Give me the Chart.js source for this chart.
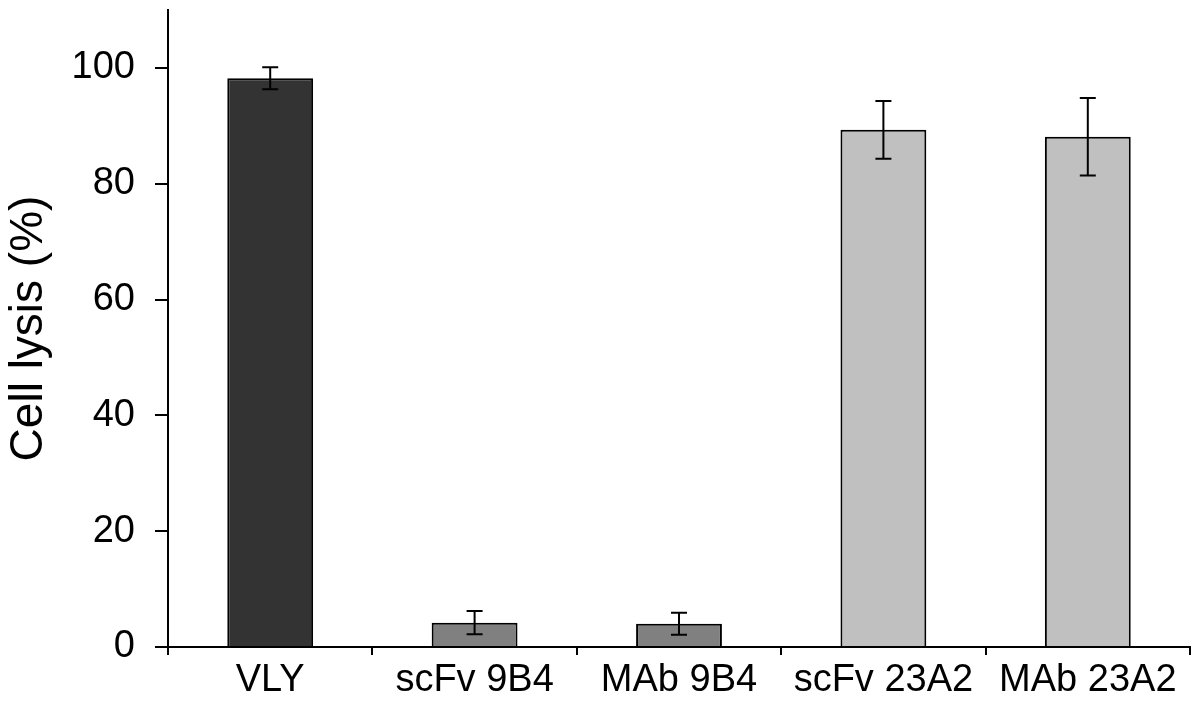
<!DOCTYPE html>
<html>
<head>
<meta charset="utf-8">
<script src="https://cdn.jsdelivr.net/npm/chart.js@4"></script>
<style>
  html, body { margin: 0; padding: 0; background: #fff; }
  #wrap { width: 1200px; height: 706px; }
</style>
</head>
<body>
<div id="wrap"><canvas id="lysis" width="1200" height="706"></canvas></div>
<script>
const labels = ['VLY', 'scFv 9B4', 'MAb 9B4', 'scFv 23A2', 'MAb 23A2'];
const lysis = [98.2, 4.2, 4.0, 89.3, 88.1];
const errors = [1.9, 2.0, 1.9, 5.0, 6.7];
const barColors = ['#333333', '#808080', '#808080', '#c0c0c0', '#c0c0c0'];
const yTicks = [0, 20, 40, 60, 80, 100];

const font = 'Liberation Sans, Arial, sans-serif';

// error bars drawn from the y scale
const errorBars = {
    id: 'errorBars',
    afterDatasetsDraw(chart) {
        const ctx = chart.ctx;
        const meta = chart.getDatasetMeta(0);
        const y = chart.scales.y;
        ctx.save();
        ctx.strokeStyle = '#000';
        ctx.lineWidth = 2;
        meta.data.forEach((bar, i) => {
            const top = y.getPixelForValue(lysis[i] + errors[i]);
            const bottom = y.getPixelForValue(lysis[i] - errors[i]);
            ctx.beginPath();
            ctx.moveTo(bar.x, top);
            ctx.lineTo(bar.x, bottom);
            ctx.moveTo(bar.x - 8, top);
            ctx.lineTo(bar.x + 8, top);
            ctx.moveTo(bar.x - 8, bottom);
            ctx.lineTo(bar.x + 8, bottom);
            ctx.stroke();
        });
        ctx.restore();
    }
};

const ctx_lysis = document.getElementById('lysis').getContext('2d');
const chart_lysis = new Chart(ctx_lysis, {
    type: 'bar',
    data: {
        labels: labels,
        datasets: [{
            data: lysis,
            backgroundColor: barColors,
            borderColor: '#000',
            borderWidth: 2,
            barPercentage: 0.42,
            categoryPercentage: 1.0,
        }]
    },
    options: {
        responsive: false,
        animation: false,
        layout: { padding: { top: 10, right: 10, left: 0, bottom: 0 } },
        plugins: {
            legend: { display: false },
            tooltip: { enabled: false },
        },
        scales: {
            x: {
                grid: {
                    display: true,
                    drawOnChartArea: false,
                    drawTicks: true,
                    tickLength: 8,
                    color: '#000',
                    lineWidth: 2,
                    offset: true,
                },
                border: { display: true, color: '#000', width: 2 },
                ticks: {
                    color: '#000',
                    font: { family: font, size: 38 },
                    padding: 3,
                    maxRotation: 0,
                    autoSkip: false,
                },
                afterFit(scale) { scale.height = 59; },
            },
            y: {
                min: 0,
                max: 110,
                grid: {
                    display: true,
                    drawOnChartArea: false,
                    drawTicks: true,
                    tickLength: 13,
                    color: '#000',
                    lineWidth: 2,
                },
                border: { display: true, color: '#000', width: 2 },
                afterBuildTicks(scale) {
                    scale.ticks = yTicks.map(v => ({ value: v }));
                },
                ticks: {
                    color: '#000',
                    font: { family: font, size: 38 },
                    padding: 20,
                },
                title: {
                    display: true,
                    text: 'Cell lysis (%)',
                    color: '#000',
                    font: { family: font, size: 46 },
                    padding: { top: 2, bottom: 0 },
                },
                afterFit(scale) {
                    scale.width = 168;
                    scale.paddingTop = 0;
                    scale.paddingBottom = 0;
                },
            }
        }
    },
    plugins: [errorBars]
});
</script>
</body>
</html>
